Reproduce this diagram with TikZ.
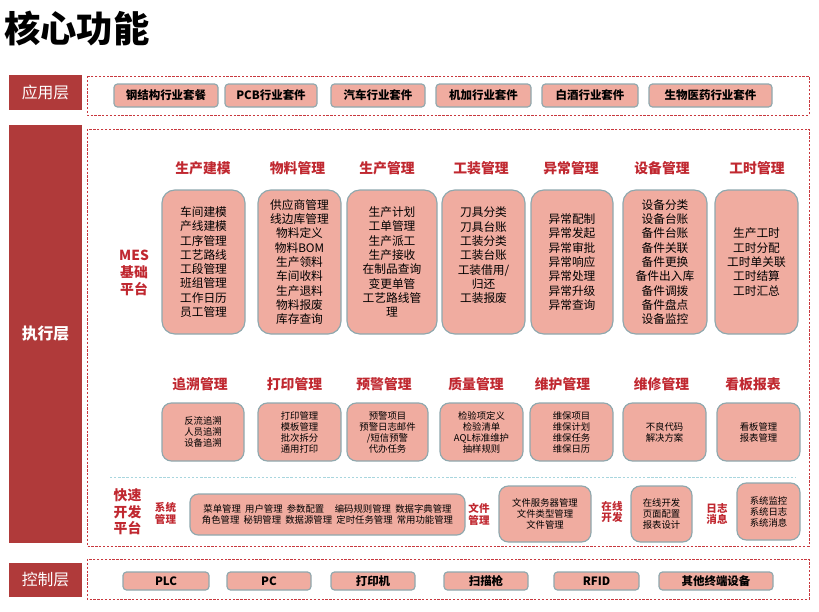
\documentclass[tikz,border=0pt]{standalone}
\usepackage{fontspec}
\setmainfont{Noto Sans CJK SC}
\usetikzlibrary{positioning}
\definecolor{layerred}{RGB}{176,58,58}
\definecolor{framered}{RGB}{200,56,62}
\definecolor{headred}{RGB}{192,40,48}
\definecolor{boxfill}{RGB}{240,172,160}
\definecolor{boxline}{RGB}{143,168,174}
\definecolor{sepcyan}{RGB}{168,214,222}
\newcommand{\pxu}{0.03cm}

\begin{document}
\begin{tikzpicture}[x=0.03cm,y=-0.03cm,
        layer/.style={fill=layerred,text=white,inner sep=0pt,minimum width=73*\pxu,
            font=\fontsize{13.5}{16}\selectfont},
        frame/.style={draw=framered,dash pattern=on 2pt off 1.3pt,line width=0.8pt},
        appbox/.style={draw=boxline,fill=boxfill,line width=1pt,rounded corners=3pt,
            inner sep=0pt,font=\fontsize{9.8}{11}\selectfont\bfseries},
        head/.style={text=headred,inner sep=0pt,font=\fontsize{11.8}{13}\selectfont\bfseries},
        bigbox/.style={draw=boxline,fill=boxfill,line width=1pt,rounded corners=11pt,
            inner sep=0pt,align=center,minimum height=144*\pxu,
            font=\fontsize{10}{12.2}\selectfont},
        smallbox/.style={draw=boxline,fill=boxfill,line width=1pt,rounded corners=8pt,
            inner sep=0pt,align=center,minimum height=58*\pxu,
            font=\fontsize{8}{9.4}\selectfont},
        side/.style={text=headred,inner sep=0pt,align=center,
            font=\fontsize{11.8}{14.2}\selectfont\bfseries},
        tag/.style={text=headred,inner sep=0pt,align=center,
            font=\fontsize{9}{10.2}\selectfont\bfseries}]

    \useasboundingbox (0,0) rectangle (819,611);

    \node[anchor=west,inner sep=0pt,font=\fontsize{31}{31}\selectfont\bfseries] (title) at (4,29) {核心功能};

    % layers
    \node[layer,minimum height=35*\pxu] (applayer) at (45.5,92.5) {应用层};
    \node[layer,minimum height=418*\pxu,font=\fontsize{13.5}{16}\selectfont\bfseries] (execlayer) at (45.5,334) {执行层};
    \node[layer,minimum height=34*\pxu] (ctrllayer) at (45.5,580) {控制层};

    \draw[frame] (87,76) rectangle (809,115);
    \draw[frame] (87,129) rectangle (809,546);
    \draw[frame] (87,559) rectangle (809,599);

    % application layer
    \foreach \x/\w/\t [count=\i] in {166/104/钢结构行业套餐,271/92/PCB行业套件,378/94/汽车行业套件,
            483.5/95/机加行业套件,590/96/白酒行业套件,710.5/123/生物医药行业套件}
    \node[appbox,minimum width=\w*\pxu,minimum height=23*\pxu] (app\i) at (\x,95.5) {\t};

    % MES base platform
    \node[side] (mes) at (134,273) {MES\\基础\\平台};
    \foreach \hx/\bx/\w/\hd/\tx [count=\i] in {
            203/203.5/83/生产建模/{车间建模\\产线建模\\工序管理\\工艺路线\\工段管理\\班组管理\\工作日历\\员工管理},
            297.5/299.5/83/物料管理/{供应商管理\\线边库管理\\物料定义\\物料BOM\\生产领料\\车间收料\\生产退料\\物料报废\\库存查询},
            387/392/90/生产管理/{生产计划\\工单管理\\生产派工\\生产接收\\在制品查询\\变更单管\\工艺路线管\\理},
            481/483.5/83/工装管理/{刀具分类\\刀具台账\\工装分类\\工装台账\\工装借用/\\归还\\工装报废\\~},
            571/572/82/异常管理/{异常配制\\异常发起\\异常审批\\异常响应\\异常处理\\异常升级\\异常查询},
            662/665/84/设备管理/{设备分类\\设备台账\\备件台账\\备件关联\\备件更换\\备件出入库\\备件调拨\\备件盘点\\设备监控},
            757/756.5/83/工时管理/{生产工时\\工时分配\\工时单关联\\工时结算\\工时汇总}} {
            \node[head] (mhead\i) at (\hx,168) {\hd};
            \node[bigbox,minimum width=\w*\pxu] (mbox\i) at (\bx,262) {\tx};
        }

    \foreach \hx/\bx/\w/\hd/\tx [count=\i] in {
            200/203/82/追溯管理/{反流追溯\\人员追溯\\设备追溯},
            294.5/299.5/83/打印管理/{打印管理\\模板管理\\批次拆分\\通用打印},
            384/387.5/81/预警管理/{预警项目\\预警日志邮件\\/短信预警\\代办任务},
            476/481.5/83/质量管理/{检验项定义\\检验清单\\AQL标准维护\\抽样规则},
            562.5/571.5/83/维护管理/{维保项目\\维保计划\\维保任务\\维保日历},
            661.5/664.5/83/维修管理/{不良代码\\解决方案},
            753/758.5/83/看板报表/{看板管理\\报表管理}} {
            \node[head] (ehead\i) at (\hx,384) {\hd};
            \node[smallbox,minimum width=\w*\pxu] (ebox\i) at (\bx,432) {\tx};
        }

    \draw[sepcyan,dash pattern=on 2pt off 1.5pt,line width=0.6pt] (110,477) -- (795,477);

    % rapid development platform
    \node[side] (rapid) at (127.5,512) {快速\\开发\\平台};
    \node[tag] (systag) at (165.5,513) {系统\\管理};
    \node[smallbox,rounded corners=7pt,minimum width=275*\pxu,minimum height=41*\pxu] (sysbox) at (327.5,514.5)
    {菜单管理\ \ 用户管理\ \ 参数配置\ \ \ \ \ 编码规则管理\ \ 数据字典管理\\
        角色管理\ \ 秘钥管理\ \ 数据源管理\ \ 定时任务管理\ \ 常用功能管理};
    \node[tag] (filetag) at (479,514) {文件\\管理};
    \node[smallbox,minimum width=92*\pxu,minimum height=56*\pxu] (filebox) at (545,514)
    {文件服务器管理\\文件类型管理\\文件管理};
    \node[tag] (devtag) at (612,512) {在线\\开发};
    \node[smallbox,minimum width=61*\pxu,minimum height=56*\pxu] (devbox) at (661.5,514)
    {在线开发\\页面配置\\报表设计};
    \node[tag] (logtag) at (717,514) {日志\\消息};
    \node[smallbox,minimum width=63*\pxu,minimum height=57*\pxu] (logbox) at (768.5,511.5)
    {系统监控\\系统日志\\系统消息};

    % control layer
    \foreach \x/\w/\t [count=\i] in {166/86/PLC,269/84/PC,373/84/打印机,486/84/扫描枪,
            596.5/85/RFID,716/114/其他终端设备}
    \node[appbox,minimum width=\w*\pxu,minimum height=18*\pxu] (dev\i) at (\x,581) {\t};
\end{tikzpicture}
\end{document}
